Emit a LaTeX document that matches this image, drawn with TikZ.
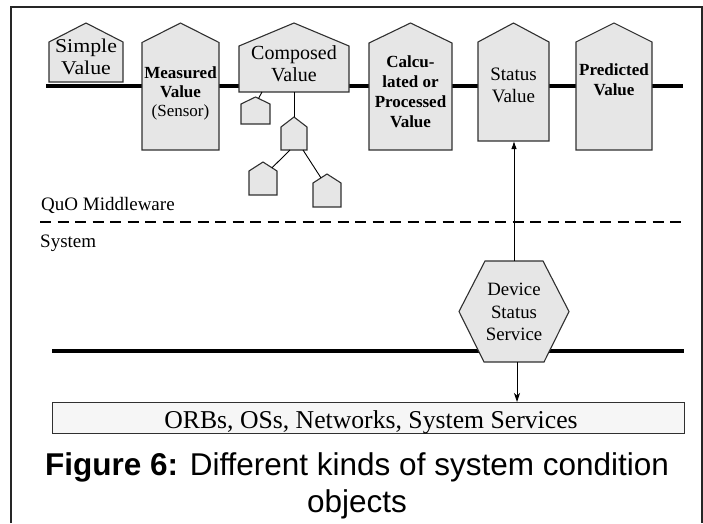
\documentclass[tikz,border=0pt]{standalone}
\usepackage{fontspec}
\setmainfont{Liberation Serif}
\newfontfamily\capsans{Liberation Sans}
\newfontfamily\wideserif{Liberation Serif}[FakeStretch=1.12]
\usetikzlibrary{arrows.meta,calc}

\definecolor{objfill}{HTML}{E6E6E6}
\definecolor{objedge}{HTML}{303030}
\definecolor{basefill}{HTML}{F6F6F6}

\tikzset{
  houseshape/.style={draw=objedge, fill=objfill, line width=1.1pt, line join=miter},
  hbox/.style={rectangle, inner sep=0pt, outer sep=0pt},
  bus/.style={line width=4.2pt, line cap=butt},
  layerline/.style={line width=2.6pt, dash pattern=on 11pt off 6.5pt},
  frameline/.style={line width=1.6pt, draw=black!85},
  txt/.style={inner sep=0pt, align=center},
  link/.style={line width=0.9pt},
}

% house-shaped object: name, left, right, apex, shoulder, bottom
\newcommand\houseobj[6]{%
  \draw[houseshape] (#2,#6) -- (#2,#5) -- ({(#2+#3)/2},#4) -- (#3,#5) -- (#3,#6) -- cycle;
  \node[hbox, minimum width={#3-#2}, minimum height={#6-#4}] (#1) at ({(#2+#3)/2},{(#4+#6)/2}) {};
}

\begin{document}
\begin{tikzpicture}[x=1pt, y=-1pt]
  \useasboundingbox (0,0) rectangle (703,523);

  % outer frame
  \draw[frameline] (11,523) -- (11,7) -- (702,7) -- (702,523);

  % middleware bus and system bus
  \coordinate (busA-l) at (46,86);  \coordinate (busA-r) at (683,86);
  \coordinate (busB-l) at (52,351); \coordinate (busB-r) at (684,351);
  \draw[bus] (busA-l) -- (busA-r);
  \draw[bus] (busB-l) -- (busB-r);

  % layer boundary
  \coordinate (layer-l) at (40,222); \coordinate (layer-r) at (684,222);
  \draw[layerline] (layer-l) -- (layer-r);
  \node[txt, anchor=base west, font=\fontsize{19}{22}\selectfont] (quo) at (41,210) {QuO Middleware};
  \node[txt, anchor=base west, font=\fontsize{19}{22}\selectfont] (sys) at (40,247) {System};

  % system condition objects
  \houseobj{simple}{49}{123}{23}{42}{82}
  \houseobj{measured}{142}{219}{23}{42.5}{150}
  \houseobj{comp}{239}{349}{23}{46}{92}
  \houseobj{calc}{369}{452}{23}{43}{150}
  \houseobj{status}{478}{549}{23}{42}{141}
  \houseobj{pred}{576}{652}{23}{42}{150}

  % parts of the composed value
  \houseobj{s1}{241}{270}{97}{104}{124}
  \houseobj{s2}{281}{307}{117}{127}{150}
  \houseobj{s3}{249}{277}{162}{171}{195}
  \houseobj{s4}{313}{341}{174}{183}{207}
  \draw[link] ($(comp.south west)+(23,0)$) -- ($(s1.north)+(3,1.5)$);
  \draw[link] (comp.south) -- (s2.north);
  \draw[link] ($(s2.south)+(-4,0)$) -- ($(s3.north)+(9,5.8)$);
  \draw[link] ($(s2.south)+(9,0)$) -- ($(s4.north)+(-6,3.9)$);

  % object labels
  \node[txt, font=\wideserif\fontsize{19.5}{22}\selectfont] (simple-t) at (86,57) {Simple\\Value};
  \node[txt, font=\fontsize{17}{19}\selectfont] (measured-t) at (180.5,93) {\textbf{Measured}\\\textbf{Value}\\(Sensor)};
  \node[txt, font=\fontsize{20}{22}\selectfont] (comp-t) at (294,64) {Composed\\Value};
  \node[txt, font=\bfseries\fontsize{17}{20.3}\selectfont] (calc-t) at (410.5,91.7) {Calcu-\\lated or\\Processed\\Value};
  \node[txt, font=\fontsize{19}{22}\selectfont] (status-t) at (513.5,85.7) {Status\\Value};
  \node[txt, font=\bfseries\fontsize{17}{20}\selectfont] (pred-t) at (614,80) {Predicted\\Value};

  % device status service
  \draw[houseshape] (485,261) -- (543,261) -- (569,311.5) -- (544,362) -- (484,362) -- (459,311.5) -- cycle;
  \node[hbox, minimum width=110, minimum height=101] (dss) at (514,311.5) {};
  \node[txt, font=\fontsize{18.8}{22.5}\selectfont] (dss-t) at (514,312) {Device\\Status\\Service};

  % underlying system
  \node[hbox, draw=objedge, fill=basefill, line width=0.9pt, minimum width=632, minimum height=31] (orbs) at (368,417.5) {};
  \node[txt, anchor=base, font=\fontsize{25.7}{28}\selectfont] (orbs-t) at (371,428) {ORBs, OSs, Networks, System Services};

  % connectors
  \draw[link, -{Latex[length=8pt, width=5.5pt]}] (dss.north) -- (dss.north |- status.south);
  \draw[link, -{Stealth[length=9pt, width=6pt, inset=2.5pt]}] ([xshift=3pt]dss.south) -- ([xshift=3pt]dss.south |- orbs.north);

  % caption
  \node[txt, font=\capsans\fontsize{31.5}{37}\selectfont] (caption) at (357,485.5)
    {\textbf{Figure 6:} Different kinds of system condition\\objects};
\end{tikzpicture}
\end{document}
